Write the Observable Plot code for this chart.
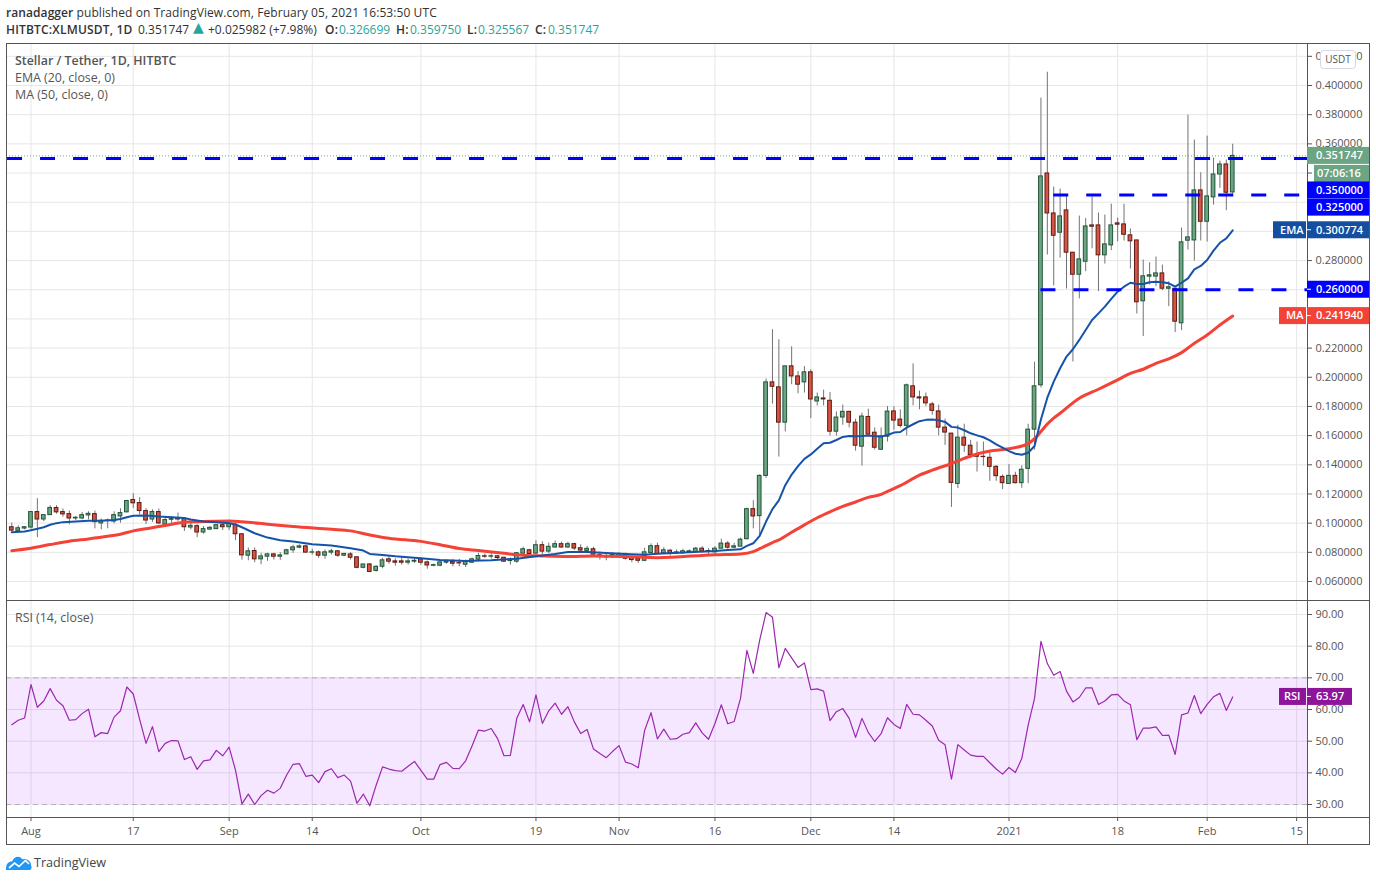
<!DOCTYPE html>
<html>
<head>
<meta charset="utf-8">
<script src="https://cdn.jsdelivr.net/npm/d3@7"></script>
<script src="https://cdn.jsdelivr.net/npm/@observablehq/plot@0.6"></script>
<style>
html,body{margin:0;padding:0;background:#fff;overflow:hidden}
body{font-family:"Open Sans",sans-serif;color:#333;width:1376px;height:881px;position:relative}
#hdr{height:43px;position:relative;font-size:12px;white-space:nowrap}
#hdr div{position:absolute;left:6px;letter-spacing:.08px}
#hdr span{position:absolute;top:21px;letter-spacing:0}
#hdr b{font-weight:600}
#hdr span.b{font-weight:600;letter-spacing:.18px}
.teal{color:#26a69a}
#panes svg{display:block}
.lbl{position:absolute;left:15px;font-size:12.4px;color:#555;white-space:nowrap}
#frame{position:absolute;left:6px;top:43px;width:1362px;height:800px;border:1px solid #555;pointer-events:none}
#ftr{position:absolute;left:6px;top:853px;height:18px;display:flex;align-items:center;gap:2px;font-size:12.6px;color:#444}
</style>
</head>
<body>
<div id="hdr">
  <div style="top:4px"><b>ranadagger</b> published on TradingView.com, February 05, 2021 16:53:50 UTC</div>
  <span class="b" style="left:6px">HITBTC:XLMUSDT, 1D</span>
  <span style="left:138px">0.351747</span>
  <span class="teal" style="left:193px;font-size:14px;top:19px;font-family:'DejaVu Sans'">▲</span>
  <span style="left:208px">+0.025982 (+7.98%)</span>
  <span class="b" style="left:325px">O:</span><span class="teal" style="left:339px">0.326699</span>
  <span class="b" style="left:396px">H:</span><span class="teal" style="left:410px">0.359750</span>
  <span class="b" style="left:467px">L:</span><span class="teal" style="left:478px">0.325567</span>
  <span class="b" style="left:535px">C:</span><span class="teal" style="left:548px">0.351747</span>
</div>
<div id="panes"></div>
<div class="lbl" style="top:52px;font-weight:600">Stellar / Tether, 1D, HITBTC</div>
<div class="lbl" style="top:69px">EMA (20, close, 0)</div>
<div class="lbl" style="top:86px">MA (50, close, 0)</div>
<div class="lbl" style="top:609px">RSI (14, close)</div>
<div id="frame"></div>
<div id="ftr">
  <svg width="26" height="15" viewBox="0 0 26 15"><path d="M0 15 C-.5 9 3 6 6 6.5 C8 1 14 0 16.500 4.500 C20 3 25 6 25 10 C26 12 25.500 15 24 15 Z" fill="#2196f3"/><path d="M3 13 L8.500 8 L13 11.500 L19.500 5.500 L23 9" fill="none" stroke="#fff" stroke-width="1.700"/></svg>
  <span>TradingView</span>
</div>
<script>
const opens = [
.0972,.0947,.0963,.0970,.1076,.1025,.1055,.1104,.1076,.1062,
.1032,.1032,.1053,.1062,.0998,.1016,.1011,.1046,.1074,.1159,
.1138,.1083,.1025,.1076,.0991,.1023,.1035,.1028,.0970,.0979,
.0936,.0956,.0959,.0986,.0972,.0989,.0924,.0777,.0809,.0752,
.0770,.0786,.0770,.0786,.0814,.0832,.0841,.0798,.0800,.0777,
.0798,.0807,.0777,.0786,.0766,.0694,.0717,.0673,.0701,.0752,
.0738,.0738,.0729,.0736,.0752,.0731,.0708,.0708,.0729,.0733,
.0726,.0715,.0729,.0750,.0773,.0770,.0773,.0763,.0740,.0736,
.0791,.0814,.0791,.0849,.0805,.0833,.0856,.0833,.0856,.0828,
.0810,.0821,.0780,.0773,.0766,.0770,.0789,.0761,.0756,.0742,
.0796,.0842,.0793,.0811,.0791,.0793,.0800,.0802,.0825,.0809,
.0800,.0825,.0860,.0832,.0839,.0890,.1096,.1048,.1324,.1965,
.1931,.1689,.2075,.2006,.1965,.2034,.1834,.1855,.1839,.1627,
.1724,.1763,.1689,.1524,.1728,.1620,.1503,.1593,.1766,.1710,
.1667,.1938,.1862,.1862,.1814,.1766,.1655,.1614,.1269,.1586,
.1531,.1469,.1455,.1448,.1386,.1317,.1269,.1324,.1274,.1372,
.1641,.1945,.3397,.3123,.2991,.3144,.2854,.2703,.2792,.3041,
.3041,.2836,.2904,.3055,.3048,.2973,.2938,.2521,.2690,.2690,
.2712,.2607,.2607,.2370,.2936,.2938,.3281,.3066,.3233,.3390,.3459,.326699];
const closes = [
.0949,.0965,.0972,.1076,.1025,.1055,.1104,.1074,.1060,.1032,
.1037,.1055,.1064,.1007,.1016,.1018,.1055,.1069,.1152,.1136,
.1083,.1018,.1076,.0998,.1021,.1028,.1025,.0972,.0982,.0936,
.0959,.0968,.0986,.0972,.0995,.0924,.0779,.0807,.0752,.0772,
.0786,.0770,.0779,.0814,.0834,.0841,.0798,.0800,.0777,.0800,
.0807,.0777,.0789,.0763,.0694,.0717,.0666,.0701,.0745,.0736,
.0729,.0729,.0738,.0742,.0729,.0710,.0712,.0731,.0733,.0722,
.0724,.0736,.0752,.0775,.0770,.0773,.0761,.0736,.0742,.0794,
.0821,.0789,.0849,.0805,.0838,.0856,.0833,.0856,.0826,.0812,
.0824,.0784,.0773,.0766,.0782,.0789,.0756,.0747,.0742,.0800,
.0842,.0789,.0814,.0793,.0800,.0807,.0807,.0825,.0805,.0805,
.0825,.0860,.0832,.0841,.0887,.1096,.1046,.1324,.1965,.1935,
.1689,.2075,.2006,.1949,.2034,.1848,.1862,.1848,.1627,.1724,
.1763,.1689,.1531,.1731,.1607,.1517,.1595,.1765,.1703,.1667,
.1945,.1862,.1855,.1821,.1770,.1655,.1621,.1276,.1586,.1531,
.1467,.1455,.1453,.1386,.1322,.1274,.1324,.1274,.1366,.1641,
.1938,.3377,.3123,.2970,.3103,.2854,.2703,.2808,.3034,.3032,
.2836,.2911,.3041,.3046,.2977,.2932,.2514,.2692,.2699,.2712,
.2607,.2617,.2381,.2925,.2959,.3281,.3066,.3240,.3390,.3459,.3265,.351747];
const highs = [
.1000,.0982,.0977,.1078,.1168,.1055,.1120,.1120,.1097,.1083,
.1046,.1074,.1078,.1083,.1028,.1028,.1078,.1099,.1156,.1202,
.1175,.1099,.1092,.1097,.1035,.1046,.1069,.1035,.1000,.0989,
.0977,.0977,.0986,.1000,.1005,.1000,.0924,.0830,.0830,.0793,
.0793,.0793,.0798,.0821,.0848,.0851,.0848,.0821,.0809,.0816,
.0821,.0812,.0793,.0798,.0770,.0717,.0724,.0708,.0759,.0770,
.0756,.0770,.0754,.0763,.0763,.0740,.0719,.0747,.0747,.0752,
.0752,.0747,.0761,.0794,.0789,.0791,.0775,.0766,.0761,.0798,
.0835,.0821,.0879,.0872,.0863,.0877,.0870,.0870,.0863,.0852,
.0840,.0835,.0803,.0798,.0798,.0798,.0793,.0770,.0763,.0828,
.0858,.0863,.0832,.0821,.0816,.0821,.0816,.0834,.0839,.0825,
.0839,.0890,.0874,.0862,.0897,.1103,.1154,.1331,.1988,.2326,
.2257,.2075,.2209,.2039,.2073,.2052,.1892,.1912,.1896,.1763,
.1809,.1767,.1712,.1754,.1781,.1653,.1653,.1800,.1798,.1777,
.1954,.2092,.1906,.1892,.1828,.1809,.1713,.1614,.1671,.1678,
.1568,.1556,.1556,.1494,.1395,.1331,.1402,.1349,.1393,.1678,
.2103,.3913,.4091,.3304,.3290,.3249,.2854,.3105,.3089,.3235,
.3126,.3112,.3187,.3091,.3187,.3016,.2941,.2804,.2785,.2824,
.2769,.2655,.2607,.3023,.3797,.3626,.3402,.3653,.3502,.3482,.3489,.359750];
const lows = [
.0940,.0940,.0954,.0959,.0901,.1010,.1055,.1062,.1041,.0989,
.1018,.1023,.1023,.0961,.0954,.0961,.0995,.1000,.1071,.1101,
.1055,.0991,.1005,.0989,.0970,.0989,.1012,.0943,.0954,.0901,
.0924,.0949,.0959,.0949,.0949,.0880,.0747,.0742,.0729,.0715,
.0738,.0747,.0745,.0784,.0793,.0825,.0793,.0781,.0759,.0752,
.0782,.0766,.0770,.0747,.0687,.0687,.0661,.0664,.0687,.0719,
.0705,.0712,.0712,.0724,.0712,.0684,.0701,.0701,.0719,.0701,
.0701,.0696,.0724,.0736,.0759,.0754,.0747,.0731,.0712,.0724,
.0787,.0782,.0787,.0782,.0793,.0828,.0828,.0828,.0812,.0793,
.0798,.0780,.0747,.0742,.0759,.0759,.0747,.0729,.0724,.0736,
.0789,.0782,.0789,.0775,.0786,.0789,.0793,.0798,.0793,.0782,
.0782,.0825,.0821,.0825,.0839,.0885,.0961,.0911,.1308,.1816,
.1453,.1625,.1949,.1887,.1892,.1717,.1804,.1804,.1597,.1597,
.1671,.1653,.1494,.1391,.1602,.1501,.1501,.1556,.1637,.1653,
.1598,.1805,.1777,.1800,.1740,.1598,.1533,.1108,.1237,.1485,
.1441,.1350,.1391,.1287,.1287,.1230,.1269,.1269,.1239,.1271,
.1501,.1927,.2838,.2626,.2817,.2605,.2105,.2537,.2724,.2881,
.2587,.2776,.2868,.2929,.2934,.2742,.2434,.2279,.2632,.2621,
.2594,.2484,.2306,.2320,.2872,.2797,.2934,.2927,.3180,.3295,.3142,.325567];
const rsiValues = [
55.2,56.6,57.3,67.9,60.7,62.7,66.6,62.9,61.2,56.6,
56.8,58.7,60.1,51.4,52.7,52.4,57.6,59.6,67.1,64.9,
56.9,49.3,54.6,46.7,49.3,50.2,50.1,44.2,45.1,41.1,
43.8,44.1,47.1,45.4,48.1,40.8,30.2,33.3,30.0,32.8,
34.5,33.6,35.1,39.3,42.7,42.9,38.9,39.3,36.9,40.4,
41.3,38.5,39.3,37.4,30.4,33.3,29.6,36.1,41.9,41.2,
40.7,40.5,42.1,43.6,40.8,38.0,38.0,42.6,43.3,41.4,
41.3,43.8,48.5,53.5,53.2,54.0,50.8,45.4,45.5,57.2,
61.6,56.1,64.6,55.6,59.6,62.0,58.5,60.9,56.1,52.4,
53.7,47.5,46.1,44.8,46.8,48.6,43.4,42.8,41.6,53.4,
59.0,50.7,53.8,50.6,50.8,52.2,52.7,55.8,52.6,50.6,
55.6,61.5,55.5,56.2,63.5,78.7,71.4,81.9,90.6,89.1,
73.2,79.3,76.3,73.3,74.7,66.3,66.5,65.8,56.5,59.3,
60.3,57.2,51.2,57.2,52.7,49.9,52.4,57.4,55.3,54.0,
61.6,58.5,58.3,56.6,54.8,50.3,48.9,38.0,48.9,47.2,
45.6,45.2,45.2,43.2,41.2,39.6,41.7,40.1,44.5,55.1,
63.5,81.5,74.5,70.8,72.0,65.8,62.4,63.8,66.8,66.8,
61.6,62.7,64.6,64.8,62.7,61.5,50.5,54.1,54.1,54.5,
51.8,51.9,45.8,58.3,58.9,64.4,58.7,61.6,64.0,65.1,59.7,63.97];
const emaIdx = [0,2,3,4,5,6,7,8,10,12,14,16,17,18,19,21,23,25,27,28,30,32,34,35,36,38,40,42,44,47,50,53,55,56,58,60,64,67,71,72,75,78,79,82,85,87,90,93,96,99,101,110,112,114,115,116,117,118,119,120,121,122,123,124,125,126,127,128,129,130,131,132,133,134,135,136,137,138,139,140,141,142,143,144,145,146,147,148,149,150,151,152,153,154,155,156,157,158,159,160,161,162,163,164,165,166,167,168,169,170,171,172,173,174,175,176,177,178,179,180,181,182,183,184,185,186,187,188,189,190,191];
const emaVal = [.0938,.0943,.0952,.0961,.0972,.0989,.1000,.1007,.1012,.1016,.1016,.1021,.1028,.1041,.1051,.1053,.1046,.1041,.1035,.1025,.1012,.1007,.1000,.0991,.0972,.0931,.0901,.0883,.0874,.0855,.0847,.0828,.0812,.0789,.0782,.0773,.0759,.0747,.0740,.0742,.0745,.0754,.0756,.0773,.0789,.0803,.0803,.0796,.0789,.0784,.0791,.0809,.0816,.0821,.0844,.0862,.0913,.1011,.1096,.1156,.1260,.1333,.1391,.1441,.1471,.1510,.1547,.1551,.1570,.1591,.1597,.1595,.1597,.1600,.1597,.1593,.1604,.1621,.1625,.1655,.1678,.1699,.1708,.1710,.1706,.1694,.1660,.1655,.1637,.1616,.1602,.1589,.1568,.1540,.1517,.1494,.1476,.1469,.1483,.1529,.1710,.1860,.1970,.2062,.2142,.2192,.2256,.2324,.2393,.2438,.2484,.2537,.2587,.2621,.2648,.2639,.2639,.2651,.2655,.2651,.2644,.2621,.2648,.2678,.2740,.2763,.2804,.2868,.2922,.2952,.300774];
const maIdx = [0,3,6,9,12,15,17,19,21,23,25,27,30,34,36,40,44,50,53,56,59,64,67,70,73,77,80,83,87,91,96,101,110,114,116,117,119,120,122,124,126,128,130,132,134,136,137,139,142,144,147,150,153,156,159,160,161,162,163,164,167,170,173,175,177,179,181,183,185,187,189,191];
const maVal = [.0811,.0828,.0853,.0876,.0892,.0910,.0924,.0947,.0961,.0977,.0993,.1007,.1012,.1014,.1009,.0993,.0977,.0958,.0947,.0919,.0896,.0875,.0852,.0826,.0812,.0793,.0780,.0775,.0771,.0775,.0771,.0763,.0784,.0789,.0805,.0825,.0867,.0885,.0938,.0988,.1037,.1078,.1115,.1145,.1177,.1197,.1218,.1257,.1329,.1363,.1409,.1460,.1494,.1510,.1545,.1579,.1628,.1680,.1720,.1753,.1856,.1918,.1982,.2027,.2055,.2096,.2126,.2169,.2233,.2290,.2358,.24194];
const priceTicks = [.42,.40,.38,.36,.34,.32,.30,.28,.26,.24,.22,.20,.18,.16,.14,.12,.10,.08,.06];
const priceTickLabels = ["0.420000","0.400000","0.380000","0.360000","","","","0.280000","","","0.220000","0.200000","0.180000","0.160000","0.140000","0.120000","0.100000","0.080000","0.060000"];
const rsiTicks = [90,80,70,60,50,40,30];
const timeTicks = ["2020-08-01","2020-08-17","2020-09-01","2020-09-14","2020-10-01","2020-10-19","2020-11-01","2020-11-16","2020-12-01","2020-12-14","2021-01-01","2021-01-18","2021-02-01","2021-02-15"];
const timeLabels = ["Aug","17","Sep","14","Oct","19","Nov","16","Dec","14","2021","18","Feb","15"];
const levels = [0.35,0.325,0.26];
const levelStarts = ["2020-07-28T08:00Z","2021-01-08T00:00Z","2021-01-06T00:00Z"];
const firstCandle = "2020-07-29";

const DAY = 864e5;
const t0 = +new Date(firstCandle+"T00:00Z");
const at = i => new Date(t0 + i*DAY);
const rows = opens.map((o,i)=>({i,date:at(i),open:o,close:closes[i],high:highs[i],low:lows[i],rsi:rsiValues[i]}));
const emaRows = emaIdx.map((i,k)=>({date:at(i),v:emaVal[k]}));
const maRows = maIdx.map((i,k)=>({date:at(i),v:maVal[k]}));
const tickDates = timeTicks.map(s=>new Date(s+"T00:00Z"));
const aug1 = +new Date("2020-08-01T00:00Z");
const xDomain = [new Date(aug1-3.83*DAY), new Date(aug1+199.7*DAY)];
const levelRows = levels.map((v,k)=>({v,start:new Date(levelStarts[k])}));
const GRID="#e6e6e6", INK="#555", FONT='"Open Sans",sans-serif';

function badges(list){
  return (index,scales)=>{
    const g=d3.create("svg:g").attr("font-family",FONT).attr("font-size",11).attr("font-weight",600).attr("text-anchor","start");
    for(const b of list){
      const cy=scales.y(b.v)+(b.dy||0);
      g.append("rect").attr("x",b.x).attr("y",cy-8.5).attr("width",b.w).attr("height",17).attr("fill",b.fill);
      g.append("text").attr("x",b.x+b.tx).attr("y",cy).attr("dy","0.35em").attr("fill","#fff").text(b.text);
      if(b.tick) g.append("line").attr("x1",1307).attr("x2",1311).attr("y1",cy).attr("y2",cy).attr("stroke","#fff");
    }
    return g.node();
  };
}
function usdtButton(){
  return ()=>{
    const g=d3.create("svg:g");
    g.append("rect").attr("x",1320.5).attr("y",7.5).attr("width",35).attr("height",18).attr("rx",3).attr("fill","#fff").attr("stroke","#d6d6e6");
    g.append("text").attr("x",1338).attr("y",16.5).attr("dy","0.35em").attr("text-anchor","middle").attr("fill",INK).attr("font-size",10).attr("font-family",FONT).text("USDT");
    return g.node();
  };
}

const price = Plot.plot({
  width:1376,height:557,marginLeft:6,marginRight:69,marginTop:0,marginBottom:0,
  style:{fontFamily:FONT,fontSize:"11px",background:"transparent"},
  x:{type:"utc",domain:xDomain,axis:null},
  y:{domain:[0.04698,0.4288]},
  marks:[
    Plot.ruleX(tickDates,{stroke:GRID}),
    Plot.ruleY(priceTicks,{stroke:GRID}),
    Plot.axisY({anchor:"right",ticks:priceTicks,tickFormat:(d,i)=>priceTickLabels[i],tickSize:4,tickPadding:4,color:INK,label:null,fontSize:11}),
    Plot.ruleY([closes[closes.length-1]],{stroke:"#6ba583",strokeDasharray:"1 2"}),
    Plot.ruleX(rows,{x:"date",y1:"low",y2:"high",stroke:"#737375"}),
    Plot.rect(rows,{
      x1:d=>new Date(+d.date-.29*DAY),x2:d=>new Date(+d.date+.29*DAY),y1:"open",y2:"close",
      fill:d=>d.close>=d.open?"#6ba583":"#d75442",
      stroke:d=>d.close>=d.open?"#225437":"#5b1a13"}),
    Plot.line(maRows,{x:"date",y:"v",stroke:"#f44336",strokeWidth:3,curve:"monotone-x"}),
    Plot.line(emaRows,{x:"date",y:"v",stroke:"#1553a8",strokeWidth:2}),
    Plot.ruleY(levelRows,{y:"v",x1:"start",x2:()=>xDomain[1],stroke:"#0000ff",strokeWidth:3,strokeDasharray:"15 18"}),
    Plot.ruleX([xDomain[1]],{stroke:INK}),
    badges([
      {v:.351747,x:1307,w:62,tx:9,fill:"#6ba583",text:"0.351747"},
      {v:.351747,dy:18,x:1314,w:55,tx:3,fill:"#6ba583",text:"07:06:16"},
      {v:.35,dy:32,x:1307,w:62,tx:9,fill:"#0000ff",text:"0.350000"},
      {v:.325,dy:12.7,x:1307,w:62,tx:9,fill:"#0000ff",text:"0.325000"},
      {v:.300774,x:1307,w:62,tx:9,fill:"#144ea0",text:"0.300774",tick:true},
      {v:.300774,x:1273,w:33,tx:7,fill:"#144ea0",text:"EMA"},
      {v:.26,x:1307,w:62,tx:9,fill:"#0000ff",text:"0.260000",tick:true},
      {v:.24194,x:1307,w:62,tx:9,fill:"#f44336",text:"0.241940",tick:true},
      {v:.24194,x:1279,w:27,tx:7,fill:"#f44336",text:"MA"}
    ]),
    usdtButton()
  ]
});

const rsi = Plot.plot({
  width:1376,height:244,marginLeft:6,marginRight:69,marginTop:0,marginBottom:27,
  style:{fontFamily:FONT,fontSize:"11px",background:"transparent"},
  x:{type:"utc",domain:xDomain},
  y:{domain:[25.9,94.42]},
  marks:[
    Plot.ruleX(tickDates,{stroke:GRID}),
    Plot.ruleY(rsiTicks,{stroke:GRID}),
    Plot.rect([0],{x1:()=>xDomain[0],x2:()=>xDomain[1],y1:()=>30,y2:()=>70,fill:"#9915ff",fillOpacity:.1}),
    Plot.ruleY([30,70],{stroke:"#b5aeb8",strokeDasharray:"5 4"}),
    Plot.axisY({anchor:"right",ticks:rsiTicks,tickFormat:d=>d.toFixed(2),tickSize:4,tickPadding:4,color:INK,label:null,fontSize:11}),
    Plot.axisX({ticks:tickDates,tickFormat:(d,i)=>timeLabels[i],tickSize:4,tickPadding:6,color:INK,label:null,fontSize:11}),
    Plot.line(rows,{x:"date",y:"rsi",stroke:"#9c27b0",strokeWidth:1.2}),
    Plot.ruleX([xDomain[1]],{stroke:INK}),
    Plot.ruleY([94.42,25.9],{stroke:INK}),
    (i,s,c,d)=>d3.create("svg:line").attr("x1",6).attr("x2",1370).attr("y1",0.5).attr("y2",0.5).attr("stroke",INK).node(),
    (i,s,c,d)=>d3.create("svg:line").attr("x1",1370).attr("x2",1307).attr("y1",217.5).attr("y2",217.5).attr("stroke",INK).node(),
    badges([
      {v:63.97,x:1307,w:45,tx:9,fill:"#8e1599",text:"63.97",tick:true},
      {v:63.97,x:1279,w:27,tx:5,fill:"#8e1599",text:"RSI"}
    ]),
    (i,s,c,d)=>d3.create("svg:line").attr("x1",1307.5).attr("x2",1307.5).attr("y1",217).attr("y2",244).attr("stroke",INK).node()
  ]
});
const host=document.getElementById("panes");
host.appendChild(price);
host.appendChild(rsi);
</script>
</body>
</html>
